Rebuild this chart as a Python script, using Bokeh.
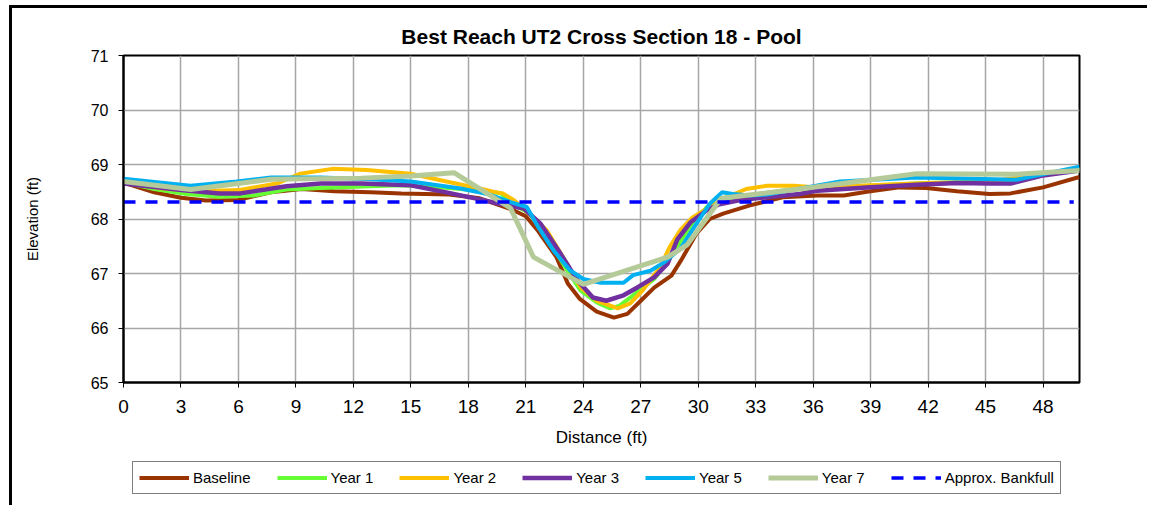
from bokeh.plotting import figure
from bokeh.models import Range1d, FixedTicker, Legend, LegendItem
from bokeh.layouts import column
from bokeh.embed import file_html
from bokeh.resources import INLINE

# ---- data ----
title_text = "Best Reach UT2 Cross Section 18 - Pool"
x_ticks = list(range(0, 49, 3))
y_ticks = [65, 66, 67, 68, 69, 70, 71]

baseline_x = [0, 1.6, 3, 4.3, 6, 7.7, 9.3, 11, 12.9, 14.5, 17, 18.6, 19.5, 20.3, 21.0, 21.6, 22.6, 23.2,
              23.8, 24.7, 25.6, 26.3, 27.0, 27.7, 28.6, 29.1, 29.9, 30.6, 31.3, 32.7, 34.4, 36.2, 37.6,
              38.8, 40.5, 41.9, 43.5, 45.2, 46.3, 48.0, 49.9]
baseline_y = [68.67, 68.49, 68.39, 68.34, 68.35, 68.49, 68.55, 68.51, 68.49, 68.47, 68.45, 68.38, 68.27,
              68.17, 68.05, 67.8, 67.3, 66.81, 66.54, 66.3, 66.19, 66.26, 66.5, 66.74, 66.96, 67.24, 67.73,
              68.0, 68.1, 68.25, 68.4, 68.43, 68.43, 68.5, 68.58, 68.57, 68.51, 68.46, 68.47, 68.58, 68.77]

year1_x = [0, 1.6, 3.3, 5, 6.8, 8.5, 10.3, 12.9, 14.5, 17, 18.6, 19.7, 20.3, 21.2, 22.1, 23.15, 23.85,
           24.7, 25.4, 25.9, 26.6, 27.7, 28.4, 29.1, 29.7, 30.45, 31.1, 33, 35, 38.8, 41.9, 45.7, 47.5, 49.9]
year1_y = [68.68, 68.55, 68.46, 68.41, 68.43, 68.54, 68.57, 68.6, 68.62, 68.57, 68.52, 68.47, 68.28, 68.1,
           67.67, 67.06, 66.69, 66.47, 66.36, 66.41, 66.6, 66.9, 67.22, 67.6, 67.92, 68.22, 68.31, 68.45,
           68.55, 68.61, 68.66, 68.69, 68.8, 68.92]

year2_x = [0, 2, 4, 6, 8, 9.2, 10.9, 12.7, 15, 17.1, 18.6, 19.3, 19.8, 20.4, 21.0, 22.1, 23.15, 23.85,
           24.7, 25.8, 26.45, 27.1, 28.0, 28.5, 29.05, 29.7, 30.45, 31.3, 32.5, 33.6, 35.0, 36.2, 39, 42,
           45, 47.5, 49.9]
year2_y = [68.68, 68.56, 68.51, 68.53, 68.65, 68.83, 68.92, 68.9, 68.83, 68.67, 68.56, 68.5, 68.47, 68.34,
           68.15, 67.79, 67.18, 66.75, 66.5, 66.36, 66.45, 66.69, 67.11, 67.48, 67.79, 68.03, 68.19, 68.37,
           68.55, 68.61, 68.61, 68.58, 68.62, 68.66, 68.68, 68.8, 68.92]

year3_x = [0, 3, 5, 6.1, 8.5, 10.3, 12.4, 15, 17.1, 18.6, 19.5, 20.2, 20.9, 21.75, 22.8, 23.7, 24.5, 25.2,
           26.1, 26.8, 27.7, 28.4, 28.9, 29.6, 30.45, 31.1, 32.2, 33.6, 35.3, 36.2, 38.8, 41.4, 43.5, 45.2,
           46.3, 48, 49.9]
year3_y = [68.65, 68.53, 68.47, 68.47, 68.6, 68.65, 68.65, 68.62, 68.47, 68.36, 68.29, 68.24, 68.19, 67.92,
           67.37, 66.87, 66.56, 66.5, 66.6, 66.74, 66.93, 67.18, 67.62, 67.94, 68.16, 68.27, 68.35, 68.4,
           68.46, 68.52, 68.58, 68.63, 68.66, 68.65, 68.65, 68.8, 68.89]

year5_x = [0, 3.5, 5.9, 7.7, 10.3, 12.9, 15, 17.6, 19.0, 20.2, 21.05, 21.6, 22.45, 23.3, 24.0, 24.9, 26.1,
           26.6, 27.5, 28.2, 29.05, 29.9, 30.6, 31.25, 31.8, 32.7, 33.6, 37.4, 41.4, 46.6, 49.9]
year5_y = [68.74, 68.61, 68.69, 68.76, 68.76, 68.73, 68.69, 68.56, 68.46, 68.31, 68.22, 67.88, 67.42, 67.06,
           66.9, 66.83, 66.83, 66.97, 67.05, 67.2, 67.45, 67.91, 68.28, 68.49, 68.46, 68.43, 68.45, 68.69,
           68.76, 68.72, 68.96]

year7_x = [0, 3.5, 7.7, 12.4, 15, 17.25, 20.2, 21.4, 24.0, 28.4, 29.4, 31.2, 35.3, 41.4, 46.6, 49.9]
year7_y = [68.69, 68.54, 68.73, 68.75, 68.79, 68.85, 68.2, 67.3, 66.8, 67.3, 67.52, 68.38, 68.55, 68.83,
           68.82, 68.89]

bankfull_x = [0, 49.6]
bankfull_y = [68.31, 68.31]

series_names = ["Baseline", "Year 1", "Year 2", "Year 3", "Year 5", "Year 7", "Approx. Bankfull"]

FONT = "Liberation Sans"
styles = [
    dict(line_color="#993300", line_width=4),
    dict(line_color="#66FF33", line_width=4),
    dict(line_color="#FFC000", line_width=4),
    dict(line_color="#7030A0", line_width=4.5),
    dict(line_color="#00B0F0", line_width=4),
    dict(line_color="#B4CA98", line_width=5),
    dict(line_color="#0000FF", line_width=3.5, line_dash="12 10"),
]

p = figure(width=1135, height=448, x_range=Range1d(0, 49.9), y_range=Range1d(65, 71),
           output_backend="svg", toolbar_location=None,
           min_border_left=111, min_border_right=68, min_border_top=47, min_border_bottom=74,
           title=title_text)
p.background_fill_color = "white"
p.border_fill_color = "white"
p.outline_line_color = "black"
p.outline_line_width = 2

p.title.align = "center"
p.title.text_font = FONT
p.title.text_font_size = "21px"
p.title.text_font_style = "bold"
p.title.text_color = "black"
p.title.standoff = 16

for ax in (p.xaxis[0], p.yaxis[0]):
    ax.axis_line_color = "black"
    ax.axis_line_width = 2
    ax.major_tick_line_color = "black"
    ax.major_tick_line_width = 1
    ax.major_tick_out = 5
    ax.major_tick_in = 0
    ax.minor_tick_line_color = None
    ax.major_label_text_font = FONT
    ax.major_label_text_color = "black"
    ax.axis_label_text_font = FONT
    ax.axis_label_text_font_style = "normal"
    ax.axis_label_text_color = "black"

p.xaxis.ticker = FixedTicker(ticks=x_ticks)
p.yaxis.ticker = FixedTicker(ticks=y_ticks)
p.xaxis.axis_label = "Distance (ft)"
p.yaxis.axis_label = "Elevation (ft)"
p.xaxis.major_label_text_font_size = "19px"
p.yaxis.major_label_text_font_size = "16px"
p.xaxis.axis_label_text_font_size = "17px"
p.yaxis.axis_label_text_font_size = "15px"
p.xaxis.major_label_standoff = 12
p.yaxis.major_label_standoff = 10
p.xaxis.axis_label_standoff = 12
p.yaxis.axis_label_standoff = 47

p.xgrid.ticker = FixedTicker(ticks=x_ticks)
p.ygrid.ticker = FixedTicker(ticks=y_ticks)
for g in (p.xgrid[0], p.ygrid[0]):
    g.grid_line_color = "#a6a6a6"
    g.grid_line_width = 1.5

all_x = [baseline_x, year1_x, year2_x, year3_x, year5_x, year7_x, bankfull_x]
all_y = [baseline_y, year1_y, year2_y, year3_y, year5_y, year7_y, bankfull_y]
for xs, ys, st in zip(all_x, all_y, styles):
    p.line(xs, ys, **st)

# legend strip below the chart (its lines lie outside this strip's view; only the legend shows)
lf = figure(width=1135, height=49, x_range=Range1d(0, 1), y_range=Range1d(0, 1),
            output_backend="svg", toolbar_location=None,
            min_border_left=0, min_border_right=0, min_border_top=0, min_border_bottom=0)
lf.axis.visible = False
lf.grid.visible = False
lf.outline_line_color = None
lf.background_fill_color = "white"
lf.border_fill_color = "white"
items = []
for name, xs, ys, st in zip(series_names, all_x, all_y, styles):
    r = lf.line(xs, ys, **st)
    items.append(LegendItem(label=name, renderers=[r]))

legend = Legend(items=items, orientation="horizontal", location=(9, 11))
legend.padding = 6
legend.margin = 0
legend.spacing = 26
legend.glyph_width = 50
legend.glyph_height = 19
legend.label_height = 19
legend.label_standoff = 4
legend.label_text_font = FONT
legend.label_text_font_size = "15px"
legend.label_text_color = "black"
legend.border_line_color = "black"
legend.border_line_width = 1
legend.background_fill_color = "white"
legend.background_fill_alpha = 1
lf.add_layout(legend, "center")

layout = column(p, lf, spacing=0)
layout.styles = {"border-top": "3px solid black", "border-left": "3px solid black",
                 "margin-left": "9px", "margin-top": "5px"}

open("out.html", "w").write(file_html(layout, INLINE))
